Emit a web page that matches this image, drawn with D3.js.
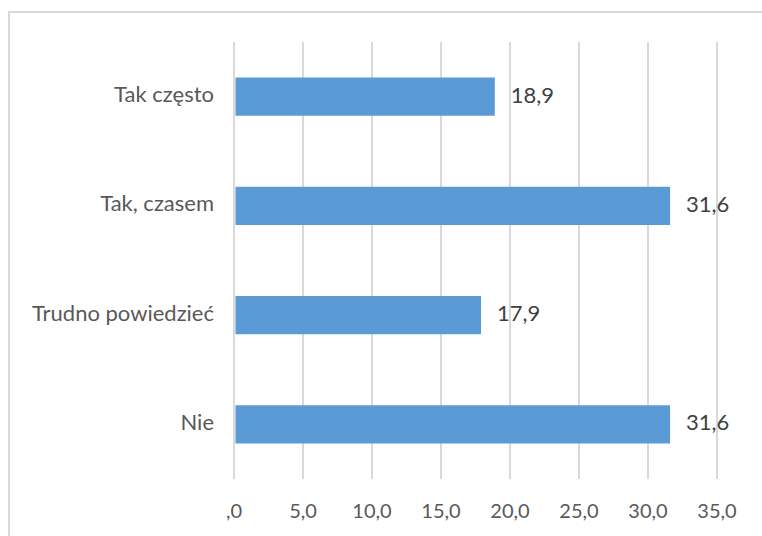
<!DOCTYPE html>
<html><head><meta charset="utf-8">
<script src="https://cdn.jsdelivr.net/npm/d3@7"></script>
<style>body{margin:0;background:#fff;} svg{display:block;}</style>
</head><body>
<script>
const categories = ["Tak często", "Tak, czasem", "Trudno powiedzieć", "Nie"];
const values = [18.9, 31.6, 17.9, 31.6];
const tickValues = [0, 5, 10, 15, 20, 25, 30, 35];
const tickLabels = [",0", "5,0", "10,0", "15,0", "20,0", "25,0", "30,0", "35,0"];

const W = 762, H = 536;
const font = "Lato, 'Noto Sans', sans-serif";
const svg = d3.select("body").append("svg").attr("width", W).attr("height", H);

svg.append("rect").attr("x", 9).attr("y", 12).attr("width", W + 20).attr("height", H + 20)
  .attr("fill", "#fff").attr("stroke", "#d9d9d9").attr("stroke-width", 2);

const x = d3.scaleLinear().domain([0, 35]).range([234, 717]);
const y = d3.scaleBand().domain(categories).range([42, 479]).paddingInner(0.65).paddingOuter(0.325);

svg.append("g").selectAll("line").data(tickValues).join("line")
  .attr("x1", d => x(d)).attr("x2", d => x(d)).attr("y1", 42).attr("y2", 479)
  .attr("stroke", "#d9d9d9").attr("stroke-width", 2);

svg.append("g").selectAll("rect").data(values).join("rect")
  .attr("x", x(0) + 1.5).attr("y", (d, i) => y(categories[i]))
  .attr("width", d => x(d) - x(0) - 1.5).attr("height", y.bandwidth())
  .attr("fill", "#5b9bd5");

svg.append("g").selectAll("text").data(values).join("text")
  .attr("x", d => x(d) + 16).attr("y", (d, i) => y(categories[i]) + y.bandwidth() / 2)
  .attr("dy", "0.27em").attr("font-family", font).attr("font-size", 22).attr("fill", "#404040")
  .text(d => d.toFixed(1).replace(".", ","));

svg.append("g").selectAll("text").data(categories).join("text")
  .attr("x", 214).attr("y", d => y(d) + y.bandwidth() / 2)
  .attr("dy", "0.25em").attr("text-anchor", "end").attr("font-family", font).attr("font-size", 22).attr("fill", "#595959")
  .text(d => d);

svg.append("g").selectAll("text").data(tickValues).join("text")
  .attr("x", d => x(d)).attr("y", 518)
  .attr("text-anchor", "middle").attr("font-family", font).attr("font-size", 20).attr("fill", "#595959")
  .text((d, i) => tickLabels[i]);
</script>
</body></html>
